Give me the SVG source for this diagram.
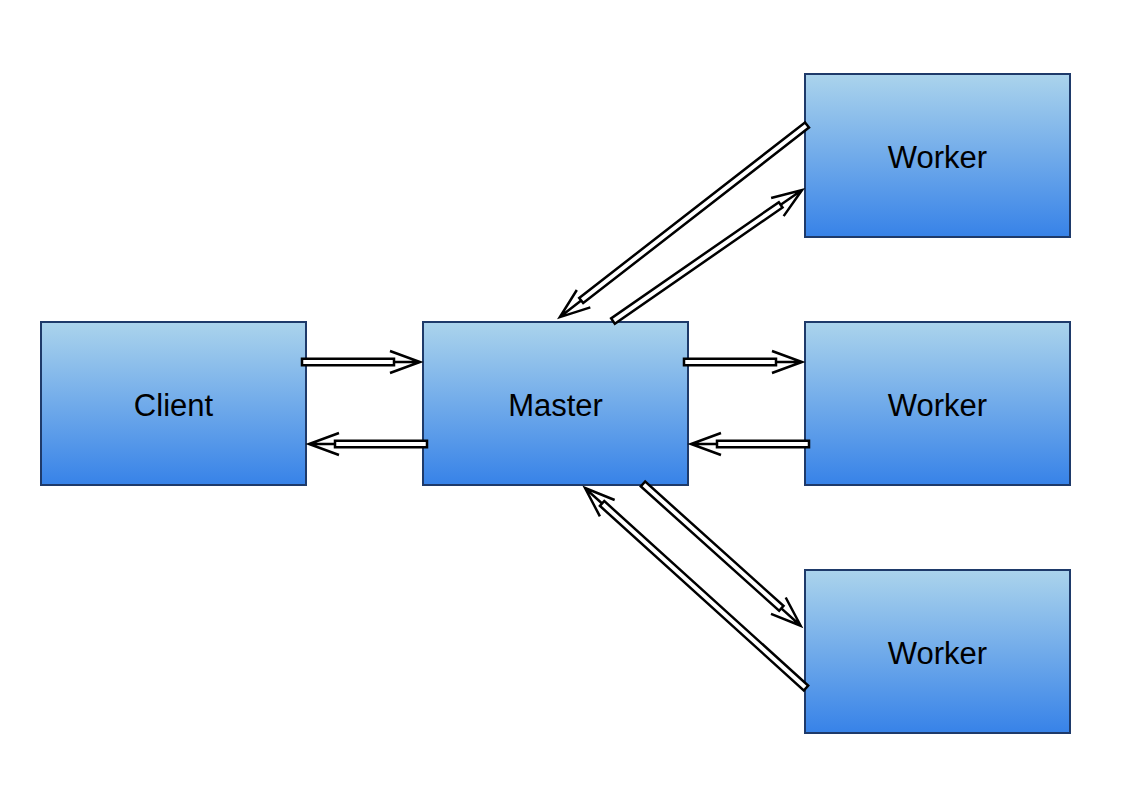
<svg xmlns="http://www.w3.org/2000/svg" width="1142" height="788" viewBox="0 0 1142 788">
  <defs>
    <linearGradient id="boxFill" x1="0" y1="0" x2="0" y2="1">
      <stop offset="0" stop-color="#abd4ec"/>
      <stop offset="1" stop-color="#3782e8"/>
    </linearGradient>
    <style>
      .box { fill: url(#boxFill); stroke: #1e3a6a; stroke-width: 2; }
      .label { font-family: "Liberation Sans", Arial, sans-serif; font-size: 31px; fill: #000; text-anchor: middle; }
      .shaft { fill: #fff; stroke: #000; stroke-width: 2.5; }
      .head { fill: none; stroke: #000; stroke-width: 2.5; stroke-linecap: butt; }
    </style>
  </defs>
  <rect width="1142" height="788" fill="#fff"/>

  <g id="client">
    <rect class="box" x="41" y="322" width="265" height="163"/>
    <text class="label" x="173.5" y="415.5">Client</text>
  </g>
  <g id="master">
    <rect class="box" x="423" y="322" width="265" height="163"/>
    <text class="label" x="555.5" y="415.5">Master</text>
  </g>
  <g id="worker-1">
    <rect class="box" x="805" y="74" width="265" height="163"/>
    <text class="label" x="937.5" y="167.5">Worker</text>
  </g>
  <g id="worker-2">
    <rect class="box" x="805" y="322" width="265" height="163"/>
    <text class="label" x="937.5" y="415.5">Worker</text>
  </g>
  <g id="worker-3">
    <rect class="box" x="805" y="570" width="265" height="163"/>
    <text class="label" x="937.5" y="663.5">Worker</text>
  </g>

  <!-- each arrow: hollow shaft, then a thin stem to an open V head; drawn along +x then placed -->
  <g id="connectors">
    <!-- client to master -->
    <g transform="translate(302,362)">
      <rect class="shaft" x="0" y="-3.25" width="92" height="6.5"/>
      <path class="head" d="M92 0H118M88 -11L118 0L88 11"/>
    </g>
    <!-- master to client -->
    <g transform="translate(427,444) rotate(180)">
      <rect class="shaft" x="0" y="-3.25" width="92" height="6.5"/>
      <path class="head" d="M92 0H118M88 -11L118 0L88 11"/>
    </g>
    <!-- master to worker 2 -->
    <g transform="translate(684,362)">
      <rect class="shaft" x="0" y="-3.25" width="92" height="6.5"/>
      <path class="head" d="M92 0H118M88 -11L118 0L88 11"/>
    </g>
    <!-- worker 2 to master -->
    <g transform="translate(809,444) rotate(180)">
      <rect class="shaft" x="0" y="-3.25" width="92" height="6.5"/>
      <path class="head" d="M92 0H118M88 -11L118 0L88 11"/>
    </g>
    <!-- worker 1 to master -->
    <g transform="translate(807,125) rotate(142.14)">
      <rect class="shaft" x="0" y="-3.25" width="286" height="6.5"/>
      <path class="head" d="M286 0H313M283 -11L313 0L283 11"/>
    </g>
    <!-- master to worker 1 -->
    <g transform="translate(613,321) rotate(-34.72)">
      <rect class="shaft" x="0" y="-3.25" width="204" height="6.5"/>
      <path class="head" d="M204 0H230M200 -11L230 0L200 11"/>
    </g>
    <!-- master to worker 3 -->
    <g transform="translate(643,484) rotate(41.95)">
      <rect class="shaft" x="0" y="-3.25" width="186" height="6.5"/>
      <path class="head" d="M186 0H212M182 -11L212 0L182 11"/>
    </g>
    <!-- worker 3 to master -->
    <g transform="translate(806,688) rotate(-137.86)">
      <rect class="shaft" x="0" y="-3.25" width="275" height="6.5"/>
      <path class="head" d="M275 0H298M268 -11L298 0L268 11"/>
    </g>
  </g>
</svg>
